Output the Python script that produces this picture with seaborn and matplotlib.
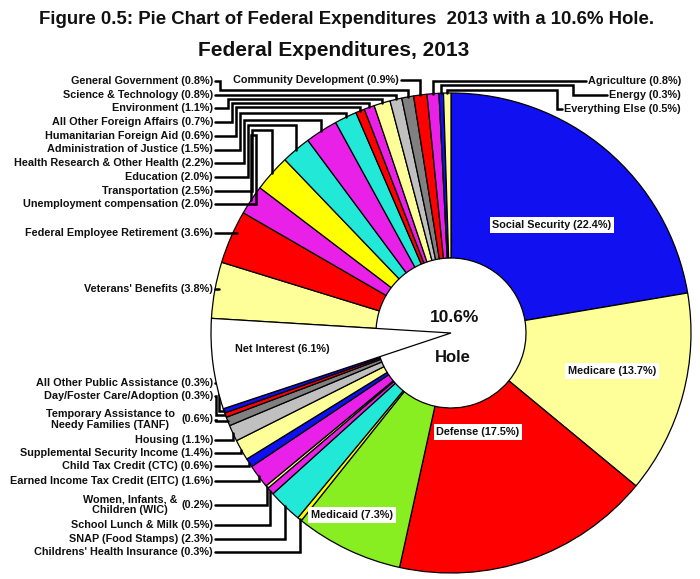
import matplotlib
matplotlib.use("Agg")
import matplotlib.pyplot as plt
import seaborn as sns
import numpy as np

sns.set_theme(style="white")
plt.rcParams['font.family'] = ['Liberation Sans', 'DejaVu Sans']

# ---------------- data (clockwise from 12 o'clock) ----------------
categories = [
    "Social Security", "Medicare", "Defense", "Medicaid",
    "Childrens' Health Insurance", "SNAP (Food Stamps)", "School Lunch & Milk",
    "Women, Infants, & Children (WIC)", "Earned Income Tax Credit (EITC)",
    "Child Tax Credit (CTC)", "Supplemental Security Income", "Housing",
    "Temporary Assistance to Needy Families (TANF)", "Day/Foster Care/Adoption",
    "All Other Public Assistance", "Net Interest", "Veterans' Benefits",
    "Federal Employee Retirement", "Unemployment compensation", "Transportation",
    "Education", "Health Research & Other Health", "Administration of Justice",
    "Humanitarian Foreign Aid", "All Other Foreign Affairs", "Environment",
    "Science & Technology", "General Government", "Community Development",
    "Agriculture", "Energy", "Everything Else",
]
values = [22.4, 13.7, 17.5, 7.3,
          0.3, 2.3, 0.5, 0.2, 1.6, 0.6, 1.4, 1.1, 0.6, 0.3, 0.3,
          6.1, 3.8, 3.6, 2.0, 2.5, 2.0, 2.2, 1.5, 0.6, 0.7, 1.1, 0.8, 0.8, 0.9,
          0.8, 0.3, 0.5]
value_labels = ["(%.1f%%)" % v for v in values]
colors = ["#1010F0", "#FFFF99", "#FF0000", "#88EE22",
          "#FFFF00", "#22E8D8", "#E820E8", "#FFFF99", "#E820E8", "#1010F0",
          "#FFFF99", "#C0C0C0", "#808080", "#FF0000", "#1010F0",
          "#FFFFFF", "#FFFF99", "#FF0000", "#E820E8", "#FFFF00", "#22E8D8",
          "#E820E8", "#22E8D8", "#FF0000", "#E820E8", "#FFFF99", "#C0C0C0",
          "#808080", "#FF0000", "#E820E8", "#1010F0", "#FFFF99"]
hole_label = "10.6%"

# ---------------- layout ----------------
W, H = 700, 579
fig = plt.figure(figsize=(W / 100, H / 100), dpi=100)
ax = fig.add_axes([0, 0, 1, 1])


def Y(v):
    return H - v


cx, cy, R, r_hole = 451, Y(333), 240, 75
wedges, _ = ax.pie(values, colors=colors, startangle=90, counterclock=False,
                   center=(cx, cy), radius=R, frame=True,
                   wedgeprops=dict(width=R - r_hole, edgecolor="black", linewidth=0.9))
ax.set_xlim(0, W)
ax.set_ylim(0, H)
ax.set_aspect("auto")
ax.axis("off")
ni = categories.index("Net Interest")
wedges[ni].set_width(None)
wedges[ni].set_zorder(3)


def rim(i):
    w = wedges[i]
    th = np.deg2rad((w.theta1 + w.theta2) / 2)
    return cx + R * np.cos(th), cy + R * np.sin(th)


FS = 7.8
lw = 1.8
tkw = dict(fontsize=FS, fontweight="bold", color="#111111")


def line(pts):
    xs, ys = zip(*pts)
    ax.plot(xs, ys, color="black", lw=lw, solid_joinstyle="miter", zorder=1)


XL = 213
# top-left group
top_left = ["General Government", "Science & Technology", "Environment",
            "All Other Foreign Affairs", "Humanitarian Foreign Aid",
            "Administration of Justice", "Health Research & Other Health",
            "Education", "Transportation", "Unemployment compensation"]
for k, name in enumerate(top_left):
    i = categories.index(name)
    yl = Y(81 + 13.7 * k)
    ax.text(XL, yl, f"{name} {value_labels[i]}", ha="right", va="center", **tkw)
    xt, yt = rim(i)
    yh = max(yt + 4, Y(90 + 5 * k))
    xe = 220 + 4 * k
    line([(XL + 2, yl), (xe, yl), (xe, yh), (xt, yh), (xt, yt)])

for name, yi in [("Federal Employee Retirement", 233), ("Veterans' Benefits", 289)]:
    i = categories.index(name)
    yl = Y(yi)
    ax.text(XL, yl, f"{name} {value_labels[i]}", ha="right", va="center", **tkw)
    xr = cx - np.sqrt(R ** 2 - (yl - cy) ** 2)
    line([(XL + 2, yl), (xr + 4, yl)])

# bottom-left group
bottom = [("All Other Public Assistance", 383, None), ("Day/Foster Care/Adoption", 396, None),
          ("Temporary Assistance to Needy Families (TANF)", 419.5, (110, "Temporary Assistance to\nNeedy Families (TANF)")),
          ("Housing", 440, None), ("Supplemental Security Income", 453, None),
          ("Child Tax Credit (CTC)", 466, None), ("Earned Income Tax Credit (EITC)", 481, None),
          ("Women, Infants, & Children (WIC)", 505, (130, "Women, Infants, &\nChildren (WIC)")),
          ("School Lunch & Milk", 525, None), ("SNAP (Food Stamps)", 539, None),
          ("Childrens' Health Insurance", 552, None)]
for name, yi, two in bottom:
    i = categories.index(name)
    yl = Y(yi)
    if two is None:
        ax.text(XL, yl, f"{name} {value_labels[i]}", ha="right", va="center", **tkw)
    else:
        ax.text(two[0], yl, two[1], ha="center", va="center", multialignment="center",
                linespacing=1.1, **tkw)
        ax.text(XL, yl, value_labels[i], ha="right", va="center", **tkw)
    xt, yt = rim(i)
    if yt < yl:  # target below label -> step down near the pie edge
        xe = 219 if name.startswith("All Other") else 216
        line([(XL + 2, yl), (xe, yl), (xe, yt), (xt, yt)])
    else:
        line([(XL + 2, yl), (xt, yl), (xt, yt)])

fig.canvas.draw()
renderer = fig.canvas.get_renderer()

# Community Development
i = categories.index("Community Development")
ax.text(399, Y(80), f"Community Development {value_labels[i]}", ha="right", va="center", **tkw)
xt, yt = rim(i)
line([(401, Y(80)), (xt, Y(80)), (xt, yt)])

# right-top group
for name, yi, xe, yh in [("Agriculture", 81, None, 81), ("Energy", 95, 573, 85),
                         ("Everything Else", 109, 557, 90)]:
    i = categories.index(name)
    t = ax.text(681, Y(yi), f"{name} {value_labels[i]}", ha="right", va="center", **tkw)
    bb = t.get_window_extent(renderer)
    x0 = bb.x0 - 2
    xt, yt = rim(i)
    if xe is None:
        line([(x0, Y(yi)), (xt, Y(yi)), (xt, yt)])
    else:
        xe = min(xe, x0)
        line([(x0, Y(yi)), (xe, Y(yi)), (xe, Y(yh)), (xt, Y(yh)), (xt, yt)])

# inside labels
box = dict(boxstyle="square,pad=0.25", facecolor="white", edgecolor="none")
for name, (x, y) in [("Social Security", (552, 225)), ("Medicare", (612, 371)),
                     ("Defense", (478, 432)), ("Medicaid", (352, 515))]:
    i = categories.index(name)
    ax.text(x, Y(y), f"{name} {value_labels[i]}", ha="center", va="center",
            bbox=box, zorder=5, **tkw)
ax.text(282, Y(349), f"Net Interest {value_labels[ni]}", ha="center", va="center", zorder=5, **tkw)

ax.text(455, Y(318), hole_label, ha="center", va="center", fontsize=12.5,
        fontweight="bold", color="#111111", zorder=5)
ax.text(453, Y(358), "Hole", ha="center", va="center", fontsize=12,
        fontweight="bold", color="#111111", zorder=5)

ax.text(347, Y(19), "Figure 0.5: Pie Chart of Federal Expenditures  2013 with a 10.6% Hole.",
        ha="center", va="center", fontsize=13.4, fontweight="bold", color="#111111")
ax.text(334, Y(50), "Federal Expenditures, 2013", ha="center", va="center",
        fontsize=15, fontweight="bold", color="#111111")

fig.savefig("out.png", dpi=100, facecolor="white")
